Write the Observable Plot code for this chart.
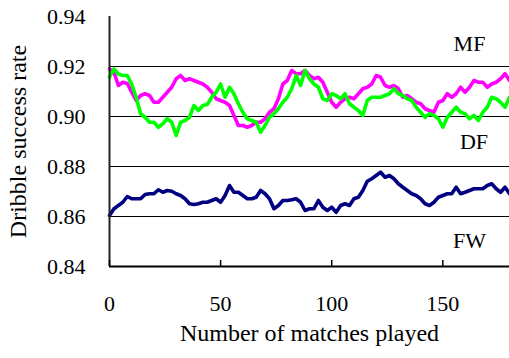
<!DOCTYPE html>
<html>
<head>
<meta charset="utf-8">
<script src="https://cdn.jsdelivr.net/npm/d3@7"></script>
<script src="https://cdn.jsdelivr.net/npm/@observablehq/plot@0.6"></script>
<style>
  body { margin: 0; background: #fff; }
  #chart svg { display: block; }
</style>
</head>
<body>
<div id="chart"></div>
<script>
// Number of matches played (every second match)
const matches = [
  0, 2, 4, 6, 8, 10, 12, 14, 16, 18,
  20, 22, 24, 26, 28, 30, 32, 34, 36, 38,
  40, 42, 44, 46, 48, 50, 52, 54, 56, 58,
  60, 62, 64, 66, 68, 70, 72, 74, 76, 78,
  80, 82, 84, 86, 88, 90, 92, 94, 96, 98,
  100, 102, 104, 106, 108, 110, 112, 114, 116, 118,
  120, 122, 124, 126, 128, 130, 132, 134, 136, 138,
  140, 142, 144, 146, 148, 150, 152, 154, 156, 158,
  160, 162, 164, 166, 168, 170, 172, 174, 176, 178,
  180
];

// Dribble success rate, midfielders
const mf = [
  0.9190, 0.9177, 0.9124, 0.9137, 0.9132, 0.9097, 0.9064, 0.9084, 0.9091, 0.9084,
  0.9057, 0.9057, 0.9077, 0.9097, 0.9117, 0.9151, 0.9164, 0.9144, 0.9151, 0.9144,
  0.9137, 0.9130, 0.9117, 0.9097, 0.9071, 0.9064, 0.9057, 0.9044, 0.9004, 0.8964,
  0.8964, 0.8957, 0.8964, 0.8977, 0.8977, 0.8991, 0.9017, 0.9031, 0.9071, 0.9130,
  0.9144, 0.9184, 0.9171, 0.9171, 0.9184, 0.9164, 0.9151, 0.9157, 0.9137, 0.9097,
  0.9057, 0.9037, 0.9057, 0.9071, 0.9077, 0.9071, 0.9091, 0.9111, 0.9117, 0.9130,
  0.9164, 0.9157, 0.9124, 0.9117, 0.9124, 0.9111, 0.9077, 0.9084, 0.9071, 0.9057,
  0.9051, 0.9031, 0.9024, 0.9017, 0.9057, 0.9064, 0.9091, 0.9077, 0.9091, 0.9117,
  0.9097, 0.9117, 0.9144, 0.9137, 0.9137, 0.9117, 0.9130, 0.9137, 0.9151, 0.9171,
  0.9144
];

// Dribble success rate, defenders
const df = [
  0.9157, 0.9190, 0.9170, 0.9164, 0.9164, 0.9130, 0.9077, 0.9011, 0.8997, 0.8977,
  0.8977, 0.8957, 0.8971, 0.8991, 0.8977, 0.8924, 0.8977, 0.8984, 0.8997, 0.9044,
  0.9024, 0.9044, 0.9048, 0.9077, 0.9097, 0.9130, 0.9077, 0.9117, 0.9091, 0.9051,
  0.9017, 0.8991, 0.8984, 0.8977, 0.8937, 0.8964, 0.8997, 0.9011, 0.9031, 0.9057,
  0.9077, 0.9111, 0.9164, 0.9124, 0.9184, 0.9151, 0.9130, 0.9117, 0.9071, 0.9064,
  0.9091, 0.9084, 0.9071, 0.9091, 0.9051, 0.9037, 0.9024, 0.9004, 0.9064, 0.9077,
  0.9077, 0.9077, 0.9084, 0.9091, 0.9111, 0.9091, 0.9084, 0.9071, 0.9064, 0.9037,
  0.9017, 0.8997, 0.9011, 0.9004, 0.8991, 0.8957, 0.8997, 0.9017, 0.9037, 0.9017,
  0.9011, 0.8991, 0.9004, 0.8984, 0.9017, 0.9037, 0.9077, 0.9071, 0.9057, 0.9037,
  0.9077
];

// Dribble success rate, forwards
const fw = [
  0.8604, 0.8631, 0.8644, 0.8657, 0.8680, 0.8671, 0.8671, 0.8671, 0.8688, 0.8691,
  0.8691, 0.8707, 0.8697, 0.8704, 0.8701, 0.8691, 0.8684, 0.8671, 0.8651, 0.8648,
  0.8651, 0.8657, 0.8657, 0.8664, 0.8671, 0.8657, 0.8684, 0.8724, 0.8697, 0.8697,
  0.8684, 0.8671, 0.8671, 0.8677, 0.8704, 0.8691, 0.8671, 0.8631, 0.8644, 0.8664,
  0.8664, 0.8667, 0.8671, 0.8657, 0.8624, 0.8631, 0.8631, 0.8664, 0.8637, 0.8624,
  0.8637, 0.8617, 0.8644, 0.8651, 0.8644, 0.8671, 0.8677, 0.8704, 0.8741, 0.8751,
  0.8764, 0.8777, 0.8757, 0.8764, 0.8751, 0.8731, 0.8717, 0.8704, 0.8691, 0.8684,
  0.8671, 0.8651, 0.8644, 0.8657, 0.8677, 0.8684, 0.8691, 0.8691, 0.8717, 0.8691,
  0.8697, 0.8704, 0.8711, 0.8711, 0.8711, 0.8724, 0.8731, 0.8711, 0.8697, 0.8717,
  0.8691
];

const xTicks = [0, 50, 100, 150];
const yTicks = [0.84, 0.86, 0.88, 0.90, 0.92, 0.94];
const gridValues = [0.86, 0.88, 0.90, 0.92];
const seriesNames = ["MF", "DF", "FW"];
// where each group name sits inside the plot
const nameSpots = [
  { name: seriesNames[0], x: 162, y: 0.9290 },
  { name: seriesNames[1], x: 164, y: 0.8898 },
  { name: seriesNames[2], x: 162, y: 0.8504 }
];

const rows = matches.map((m, i) => ({ m, mf: mf[i], df: df[i], fw: fw[i] }));

const serif = "'Liberation Serif'";

const chart = Plot.plot({
  width: 509,
  height: 358,
  marginLeft: 109,
  marginRight: 0,
  marginTop: 16,
  marginBottom: 92,
  style: "font-family: 'Liberation Serif'; font-size: 22px; color: #000; background: #fff;",
  x: { domain: [0, 180] },
  y: { domain: [0.84, 0.94] },
  marks: [
    Plot.ruleY(gridValues, { stroke: "#000", strokeWidth: 1 }),
    Plot.line(rows, { x: "m", y: "mf", stroke: "#ff00ff", strokeWidth: 3.6 }),
    Plot.line(rows, { x: "m", y: "df", stroke: "#00ff00", strokeWidth: 3.6 }),
    Plot.line(rows, { x: "m", y: "fw", stroke: "#000080", strokeWidth: 3.6 }),
    Plot.ruleY([0.84], { stroke: "#000", strokeWidth: 2 }),
    Plot.ruleX([0], { stroke: "#222", strokeWidth: 2 }),
    Plot.ruleX(xTicks, { stroke: "#000", strokeWidth: 1.5, insetTop: 244 }),
    Plot.axisY({ ticks: yTicks, tickFormat: d3.format(".2f"), tickSize: 0, tickPadding: 24, label: null, fontSize: 22, fontFamily: serif }),
    Plot.axisX({ ticks: xTicks, tickSize: 0, tickPadding: 29, label: null, fontSize: 22, fontFamily: serif }),
    Plot.text(["Number of matches played"], { frameAnchor: "bottom", dy: 74, fontSize: 24, fontFamily: serif }),
    Plot.text(["Dribble success rate"], { frameAnchor: "left", textAnchor: "middle", rotate: -90, dx: -91, fontSize: 24, fontFamily: serif }),
    Plot.text(nameSpots, { x: "x", y: "y", text: "name", fontSize: 22, fontFamily: serif })
  ]
});

// set the typeface on every label directly as well
chart.querySelectorAll("text").forEach(t => {
  t.setAttribute("font-family", "Liberation Serif");
  t.style.fontFamily = "'Liberation Serif'";
});

document.getElementById("chart").append(chart);
</script>
</body>
</html>
